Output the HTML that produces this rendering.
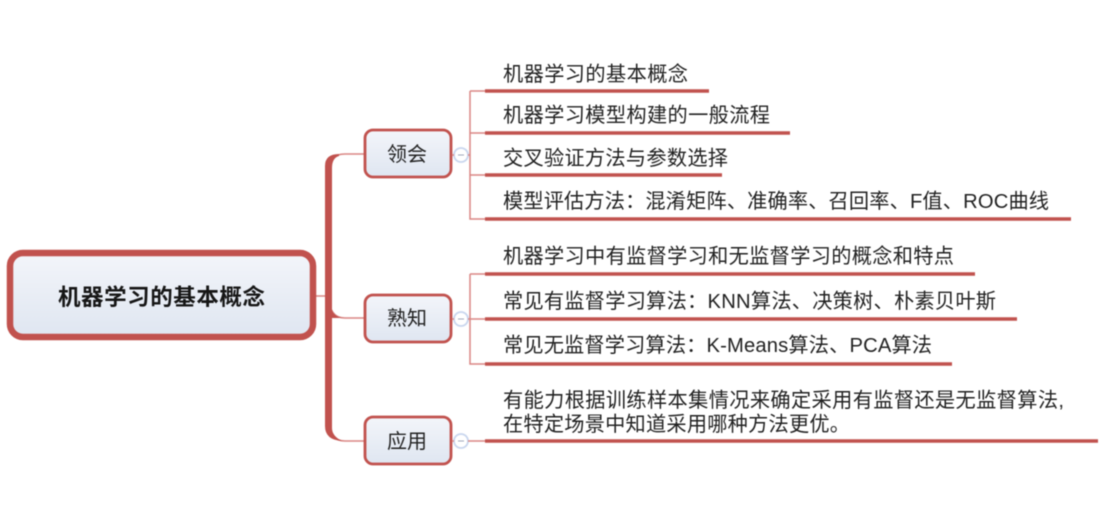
<!DOCTYPE html>
<html><head><meta charset="utf-8"><style>
html,body{margin:0;padding:0;background:#fff;width:1115px;height:516px;overflow:hidden}
svg{display:block;filter:blur(.55px)}
text{font-family:"Liberation Sans","Noto Sans CJK SC",sans-serif;fill:#222}
</style></head><body>
<svg width="1115" height="516" viewBox="0 0 1115 516" xmlns="http://www.w3.org/2000/svg">
<defs><linearGradient id="g" x1="0" y1="0" x2="0" y2="1"><stop offset="0" stop-color="#f3f5fa"/><stop offset="1" stop-color="#dfe6f1"/></linearGradient></defs>

<!-- trunk -->
<path d="M316 296H329" stroke="#d98683" stroke-width="1.5" fill="none"/>
<path d="M329 170Q329 154 345 154H364" stroke="#d98683" stroke-width="1.5" fill="none"/>
<path d="M329 296Q329 318 345 318H364" stroke="#d98683" stroke-width="1.5" fill="none"/>
<path d="M329 420Q329 441 345 441H364" stroke="#d98683" stroke-width="1.5" fill="none"/>
<path d="M325 438V166Q325 154 339 154V156Q332 158 332 168V428Q332 436 342 441Q325 440 325 426Z" fill="#c1524e"/>
<path d="M326 166H332V428H326Z" fill="#c1524e"/>
<path d="M332 310Q334 316 342 318H332Z" fill="#c1524e"/>

<!-- root -->
<rect x="10" y="253" width="303" height="84" rx="13" fill="url(#g)" stroke="#c1524e" stroke-width="6.5"/>
<text x="58" y="305" font-size="22.5" font-weight="700" textLength="207" style="fill:#161616">机器学习的基本概念</text>

<!-- subtopics -->
<g fill="url(#g)" stroke="#c1524e" stroke-width="2.8">
<rect x="365" y="130" width="86" height="47" rx="8"/>
<rect x="365" y="295" width="86" height="47" rx="8"/>
<rect x="365" y="417" width="86" height="47" rx="8"/>
</g>
<g font-size="20">
<text x="387" y="161" textLength="40">领会</text>
<text x="387" y="325" textLength="40">熟知</text>
<text x="387" y="448" textLength="40">应用</text>
</g>

<!-- collapse circles -->
<g fill="#fff" stroke="#c9d6ee" stroke-width="1.8">
<circle cx="461" cy="155" r="7"/><circle cx="461" cy="319" r="7"/><circle cx="461" cy="441" r="7"/>
</g>
<g stroke="#9fa8bb" stroke-width="1"><path d="M458 155H464M458 319H464M458 441H464"/></g>

<!-- connectors -->
<g stroke="#d98683" stroke-width="1.5" fill="none">
<path d="M452 155H454M468 155H470M452 319H454M468 319H470M452 441H454M468 441H486"/>
<path d="M470 91V219H486M470 91H486M470 133H486M470 175H486"/>
<path d="M470 274V364H486M470 274H486M470 319H486"/>
</g>

<!-- leaf underlines -->
<g stroke="#c1524e" stroke-width="3.5" fill="none">
<path d="M485 91H709"/>
<path d="M485 133H790"/>
<path d="M485 175H722"/>
<path d="M485 219H1071"/>
<path d="M485 274H975"/>
<path d="M485 319H1017"/>
<path d="M485 364H952"/>
<path d="M485 441H1098"/>
</g>

<!-- leaf text -->
<g font-size="20.2">
<text x="503" y="81" textLength="185">机器学习的基本概念</text>
<text x="503" y="122" textLength="267">机器学习模型构建的一般流程</text>
<text x="503" y="165" textLength="225">交叉验证方法与参数选择</text>
<text x="503" y="208" textLength="546">模型评估方法：混淆矩阵、准确率、召回率、F值、ROC曲线</text>
<text x="503" y="263" textLength="451">机器学习中有监督学习和无监督学习的概念和特点</text>
<text x="503" y="308" textLength="493">常见有监督学习算法：KNN算法、决策树、朴素贝叶斯</text>
<text x="503" y="352" textLength="429">常见无监督学习算法：K-Means算法、PCA算法</text>
<text x="503" y="407" textLength="561">有能力根据训练样本集情况来确定采用有监督还是无监督算法,</text>
<text x="503" y="431" textLength="347">在特定场景中知道采用哪种方法更优。</text>
</g>
</svg>
</body></html>
